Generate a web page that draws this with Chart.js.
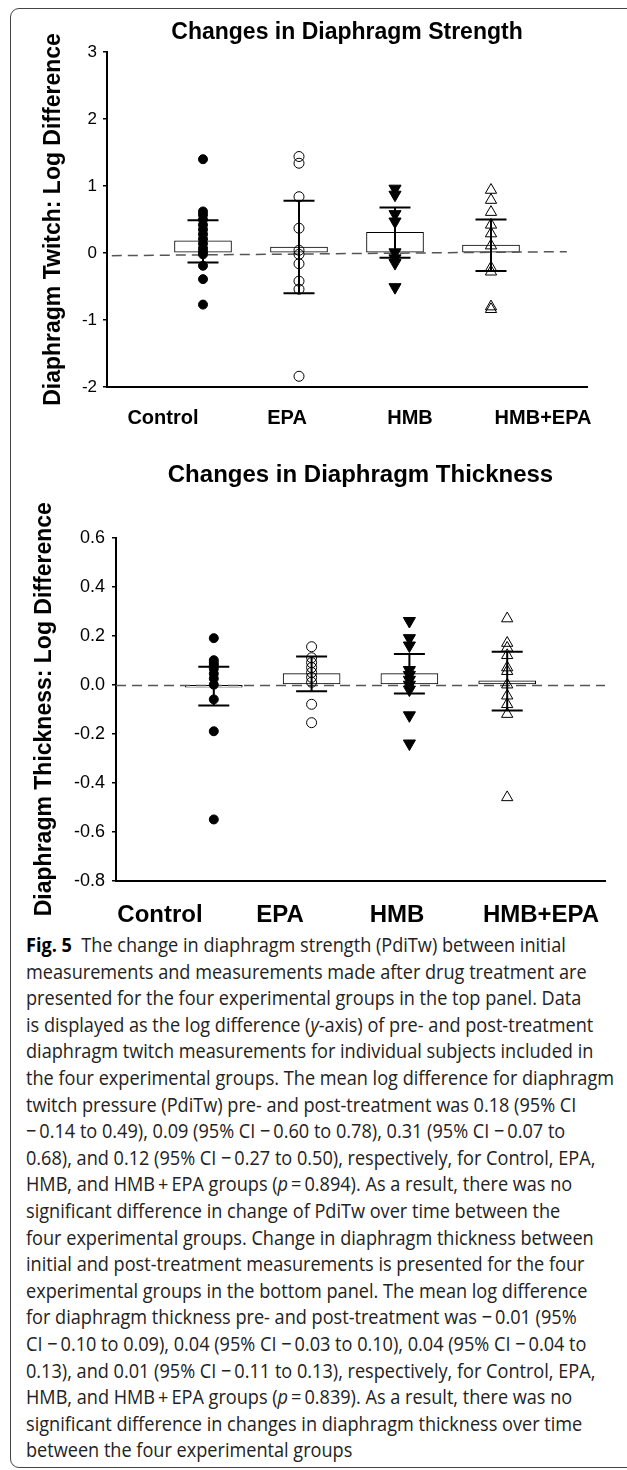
<!DOCTYPE html>
<html>
<head>
<meta charset="utf-8">
<script src="https://cdn.jsdelivr.net/npm/chart.js@4.4.1/dist/chart.umd.min.js"></script>
<style>
html, body { margin: 0; padding: 0; background: #fff; overflow: hidden; width: 627px; height: 1470px; }
#cadre { position: absolute; left: 10px; top: 8px; width: 650px; height: 1460px; border: 1px solid #444; border-radius: 9px; box-sizing: border-box; }
#haut { position: absolute; left: 0; top: 0; }
#bas { position: absolute; left: 0; top: 440px; }
#legende { position: absolute; left: 26px; top: 932px; font-family: 'Open Sans', 'Noto Sans', sans-serif; font-size: 20px; color: #222; transform-origin: 0 0; white-space: nowrap; }
#legende div { height: 26.6px; line-height: 26.6px; }
#legende b { color: #000; }
</style>
</head>
<body>
<div id="cadre"></div>
<canvas id="haut" width="627" height="440"></canvas>
<canvas id="bas" width="627" height="490"></canvas>
<div id="legende">
<div><span><b>Fig. 5</b>&nbsp; The change in diaphragm strength (PdiTw) between initial</span></div>
<div><span>measurements and measurements made after drug treatment are</span></div>
<div><span>presented for the four experimental groups in the top panel. Data</span></div>
<div><span>is displayed as the log difference (<i>y</i>-axis) of pre- and post-treatment</span></div>
<div><span>diaphragm twitch measurements for individual subjects included in</span></div>
<div><span id="ligneRef">the four experimental groups. The mean log difference for diaphragm</span></div>
<div><span>twitch pressure (PdiTw) pre- and post-treatment was 0.18 (95% CI</span></div>
<div><span>&minus;&thinsp;0.14 to 0.49), 0.09 (95% CI &minus;&thinsp;0.60 to 0.78), 0.31 (95% CI &minus;&thinsp;0.07 to</span></div>
<div><span>0.68), and 0.12 (95% CI &minus;&thinsp;0.27 to 0.50), respectively, for Control, EPA,</span></div>
<div><span>HMB, and HMB&thinsp;+&thinsp;EPA groups (<i>p</i>&thinsp;=&thinsp;0.894). As a result, there was no</span></div>
<div><span>significant difference in change of PdiTw over time between the</span></div>
<div><span>four experimental groups. Change in diaphragm thickness between</span></div>
<div><span>initial and post-treatment measurements is presented for the four</span></div>
<div><span>experimental groups in the bottom panel. The mean log difference</span></div>
<div><span>for diaphragm thickness pre- and post-treatment was &minus;&thinsp;0.01 (95%</span></div>
<div><span>CI &minus;&thinsp;0.10 to 0.09), 0.04 (95% CI &minus;&thinsp;0.03 to 0.10), 0.04 (95% CI &minus;&thinsp;0.04 to</span></div>
<div><span>0.13), and 0.01 (95% CI &minus;&thinsp;0.11 to 0.13), respectively, for Control, EPA,</span></div>
<div><span>HMB, and HMB&thinsp;+&thinsp;EPA groups (<i>p</i>&thinsp;=&thinsp;0.839). As a result, there was no</span></div>
<div><span>significant difference in changes in diaphragm thickness over time</span></div>
<div><span>between the four experimental groups</span></div>
</div>

<script>
var groups = ['Control', 'EPA', 'HMB', 'HMB+EPA'];

// top panel: diaphragm twitch, log difference per subject
var twControl = [1.40, 0.62, 0.57, 0.50, 0.42, 0.35, 0.28, 0.21, 0.14, 0.07, 0.02, -0.02, -0.19, -0.39, -0.77];
var twEpa = [1.44, 1.34, 0.84, 0.37, 0.04, -0.02, -0.16, -0.42, -0.54, -1.84];
var twHmb = [0.96, 0.87, 0.58, 0.47, 0.01, -0.08, -0.15, -0.51];
var twHmbEpa = [0.94, 0.79, 0.61, 0.42, 0.29, 0.11, -0.22, -0.28, -0.80, -0.84];
var twMean = [0.18, 0.09, 0.31, 0.12];
var twLow = [-0.14, -0.60, -0.07, -0.27];
var twHigh = [0.49, 0.78, 0.68, 0.50];
var twRefX = [0.05, 4.79];
var twRefY = [-0.04, 0.02];
var twTicks = [-2, -1, 0, 1, 2, 3];

// bottom panel: diaphragm thickness, log difference per subject
var thControl = [0.19, 0.10, 0.09, 0.08, 0.065, 0.045, 0.025, 0.0, -0.06, -0.19, -0.55];
var thEpa = [0.155, 0.11, 0.09, 0.07, 0.05, 0.03, 0.01, -0.08, -0.155];
var thHmb = [0.26, 0.19, 0.16, 0.06, 0.04, 0.02, 0.0, -0.02, -0.125, -0.24];
var thHmbEpa = [0.27, 0.17, 0.15, 0.12, 0.07, 0.055, 0.0, -0.045, -0.08, -0.12, -0.46];
var thMean = [-0.01, 0.045, 0.045, 0.016];
var thLow = [-0.085, -0.027, -0.036, -0.105];
var thHigh = [0.073, 0.115, 0.125, 0.134];
var thRefX = [0, 5];
var thRefY = [-0.003, -0.003];
var thTicks = [-0.8, -0.6, -0.4, -0.2, 0.0, 0.2, 0.4, 0.6];

// marker look for each group
var markers = [
    { pointStyle: 'circle', radius: 4.5, rotation: 0, fill: '#000' },
    { pointStyle: 'circle', radius: 5, rotation: 0, fill: 'rgba(0,0,0,0)' },
    { pointStyle: 'triangle', radius: 7, rotation: 180, fill: '#000' },
    { pointStyle: 'triangle', radius: 6.5, rotation: 0, fill: 'rgba(0,0,0,0)' }
];

Chart.defaults.font.family = "'Liberation Sans', Arial, Helvetica, sans-serif";
Chart.defaults.color = '#000';

var errorBars = {
    id: 'errorBars',
    afterDatasetsDraw: function (chart, args, opts) {
        var ctx = chart.ctx;
        var sx = chart.scales.x;
        var sy = chart.scales.y;
        ctx.save();
        ctx.strokeStyle = '#000';
        ctx.lineWidth = 2;
        var i = 0;
        while (i < opts.low.length) {
            var px = sx.getPixelForValue(i + 1);
            var yl = sy.getPixelForValue(opts.low[i]);
            var yh = sy.getPixelForValue(opts.high[i]);
            ctx.beginPath();
            ctx.moveTo(px, yl); ctx.lineTo(px, yh);
            ctx.moveTo(px - opts.cap, yl); ctx.lineTo(px + opts.cap, yl);
            ctx.moveTo(px - opts.cap, yh); ctx.lineTo(px + opts.cap, yh);
            ctx.stroke();
            i++;
        }
        ctx.restore();
    }
};

function GetPoints(valeurs, g) {
    var pts = [];
    var i = 0;
    while (i < valeurs.length) {
        pts.push({ x: g + 1, y: valeurs[i] });
        i++;
    }
    return pts;
}

function DrawPanel(canvasId, p) {
    var datasets = [];

    datasets.push({
        type: 'bar',
        data: GetPoints(p.mean, 0).map(function (pt, i) { return { x: i + 1, y: p.mean[i] }; }),
        barThickness: 57,
        backgroundColor: '#fff',
        borderColor: '#000',
        borderWidth: 1,
        borderSkipped: false,
        order: 3
    });

    datasets.push({
        type: 'line',
        data: [{ x: p.refX[0], y: p.refY[0] }, { x: p.refX[1], y: p.refY[1] }],
        borderColor: '#555',
        borderWidth: 1.5,
        borderDash: [10, 6],
        pointRadius: 0,
        order: 2
    });

    var g = 0;
    while (g < p.points.length) {
        datasets.push({
            type: 'scatter',
            data: GetPoints(p.points[g], g),
            pointStyle: markers[g].pointStyle,
            pointRadius: markers[g].radius,
            pointRotation: markers[g].rotation,
            pointBackgroundColor: markers[g].fill,
            pointBorderColor: '#000',
            pointBorderWidth: 1,
            order: 0
        });
        g++;
    }

    var ctx = document.getElementById(canvasId).getContext('2d');
    return new Chart(ctx, {
        type: 'scatter',
        data: { datasets: datasets },
        options: {
            responsive: false,
            animation: false,
            events: [],
            layout: { padding: { left: p.padLeft, right: p.padRight, top: 0, bottom: 0 } },
            plugins: {
                legend: { display: false },
                tooltip: { enabled: false },
                title: {
                    display: true,
                    text: p.title,
                    fullSize: false,
                    color: '#000',
                    font: { size: p.titleSize, weight: 'bold' },
                    padding: { top: p.titleTop, bottom: p.titleBottom }
                },
                errorBars: { low: p.low, high: p.high, cap: 15.5 }
            },
            scales: {
                x: {
                    type: 'linear',
                    min: 0,
                    max: 5,
                    offset: false,
                    afterBuildTicks: function (s) { s.ticks = p.labelPos.map(function (v) { return { value: v }; }); },
                    afterFit: function (s) { s.height = p.xHeight; },
                    ticks: {
                        autoSkip: false,
                        maxRotation: 0,
                        color: '#000',
                        padding: p.xPad,
                        font: { size: p.xSize, weight: 'bold' },
                        callback: function (v, i) { return groups[i]; }
                    },
                    grid: { display: true, drawOnChartArea: false, drawTicks: false },
                    border: { display: true, color: '#000', width: 2 }
                },
                y: {
                    type: 'linear',
                    min: p.ticks[0],
                    max: p.ticks[p.ticks.length - 1],
                    afterBuildTicks: function (s) { s.ticks = p.ticks.map(function (v) { return { value: v }; }); },
                    afterFit: function (s) { s.width = p.yWidth; },
                    ticks: {
                        color: '#000',
                        padding: p.yPad,
                        font: { size: p.ySize },
                        callback: p.fmt
                    },
                    grid: { display: true, drawOnChartArea: false, drawTicks: true, tickLength: 4, color: '#000', lineWidth: 1.5 },
                    border: { display: true, color: '#000', width: 2 },
                    title: { display: true, text: p.yTitle, color: '#000', font: { size: 23, weight: 'bold' }, padding: 0 }
                }
            }
        },
        plugins: [errorBars]
    });
}

DrawPanel('haut', {
    title: 'Changes in Diaphragm Strength',
    yTitle: 'Diaphragm Twitch: Log Difference',
    points: [twControl, twEpa, twHmb, twHmbEpa],
    mean: twMean, low: twLow, high: twHigh,
    refX: twRefX, refY: twRefY,
    ticks: twTicks,
    fmt: function (v) { return String(v); },
    labelPos: [0.583, 1.875, 3.156, 4.542],
    padLeft: 40, padRight: 40,
    titleSize: 23, titleTop: 19.2, titleBottom: 5.2,
    xHeight: 53, xPad: 19, xSize: 20,
    yWidth: 67, yPad: 6, ySize: 17
});

DrawPanel('bas', {
    title: 'Changes in Diaphragm Thickness',
    yTitle: 'Diaphragm Thickness: Log Difference',
    points: [thControl, thEpa, thHmb, thHmbEpa],
    mean: thMean, low: thLow, high: thHigh,
    refX: thRefX, refY: thRefY,
    ticks: thTicks,
    fmt: function (v) { return (Math.abs(v) < 1e-9 ? 0 : v).toFixed(1); },
    labelPos: [0.45, 1.677, 2.874, 4.346],
    padLeft: 31, padRight: 22,
    titleSize: 24, titleTop: 20.6, titleBottom: 48.3,
    xHeight: 49.3, xPad: 20, xSize: 24,
    yWidth: 85, yPad: 7, ySize: 18
});

// squeeze the caption so its longest line matches the figure width
var ligne = document.getElementById('ligneRef');
var facteur = 588 / ligne.getBoundingClientRect().width;
document.getElementById('legende').style.transform = 'scaleX(' + facteur + ')';
</script>
</body>
</html>
